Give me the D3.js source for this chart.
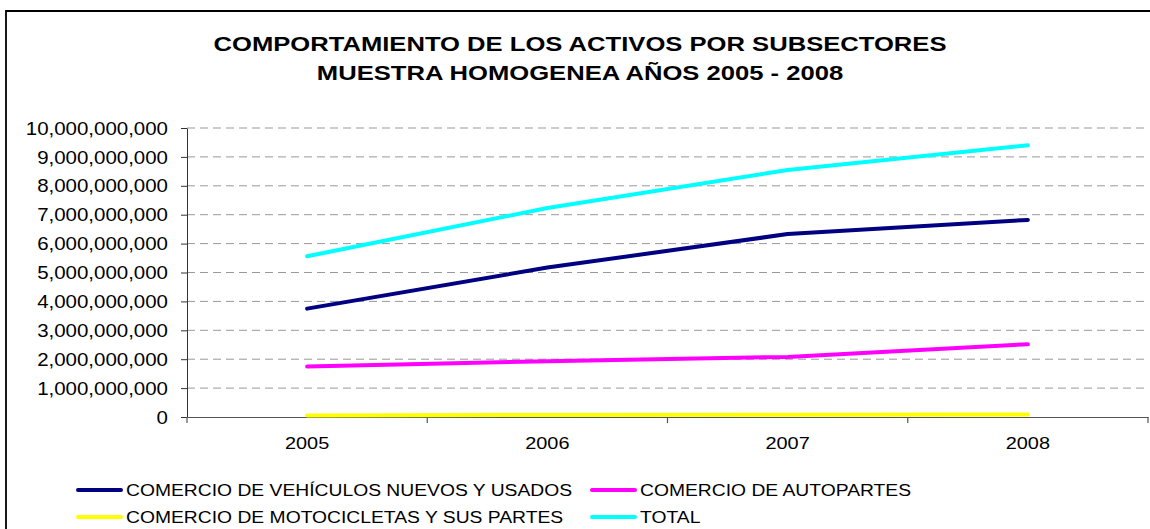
<!DOCTYPE html>
<html><head><meta charset="utf-8">
<script src="https://cdn.jsdelivr.net/npm/d3@7"></script>
<style>
html,body{margin:0;padding:0;background:#fff;}
svg{display:block;font-family:"Liberation Sans",Arial,sans-serif;}
</style></head>
<body>
<svg id="chart" width="1150" height="529"></svg>
<script>
const years = ["2005","2006","2007","2008"];
const vehiculos = [3.75e9, 5.17e9, 6.33e9, 6.82e9];
const autopartes = [1.75e9, 1.93e9, 2.08e9, 2.52e9];
const motocicletas = [0.05e9, 0.07e9, 0.08e9, 0.09e9];
const total = [5.56e9, 7.23e9, 8.55e9, 9.40e9];
const yTicks = [0,1e9,2e9,3e9,4e9,5e9,6e9,7e9,8e9,9e9,10e9];
const titleLines = ["COMPORTAMIENTO DE LOS ACTIVOS POR SUBSECTORES","MUESTRA HOMOGENEA AÑOS 2005 - 2008"];
const seriesNames = ["COMERCIO DE VEHÍCULOS NUEVOS Y USADOS","COMERCIO DE AUTOPARTES","COMERCIO DE MOTOCICLETAS Y SUS PARTES","TOTAL"];
const seriesColors = ["#000080","#FF00FF","#FFFF00","#00FFFF"];

const series = [vehiculos, autopartes, motocicletas, total].map((v,i)=>({name:seriesNames[i],color:seriesColors[i],values:v}));

const SX = 1.17;
const svg = d3.select("#chart");
const m = {left:187, right:1148, top:128, bottom:417};

// frame
svg.append("path").attr("d","M6,540 L6,11 L1160,11").attr("fill","none").attr("stroke","#000").attr("stroke-width",1.8);

const x = d3.scaleBand().domain(years).range([m.left,m.right]).padding(0);
const y = d3.scaleLinear().domain([0,10e9]).range([m.bottom,m.top]);

// gridlines
svg.append("g").selectAll("line").data(yTicks.filter(d=>d>0)).join("line")
  .attr("x1",m.left).attr("x2",m.right).attr("y1",d=>y(d)).attr("y2",d=>y(d))
  .attr("stroke","#999").attr("stroke-width",1).attr("stroke-dasharray","8,5");

// y axis
const yAxis = svg.append("g").attr("transform",`translate(${m.left},0)`)
  .call(d3.axisLeft(y).tickValues(yTicks).tickSize(6).tickSizeOuter(0).tickFormat(d3.format(",")));
yAxis.select(".domain").attr("stroke","#333");
yAxis.selectAll(".tick line").attr("stroke","#333");
yAxis.selectAll(".tick text").each(function(){
  const t = d3.select(this);
  t.attr("x",null).attr("dy","0.35em").attr("font-size",17.5).attr("fill","#000")
   .attr("font-family","Liberation Sans, Arial, sans-serif")
   .attr("transform",`translate(-19,0) scale(${SX},1)`);
});

// x axis
const xAxis = svg.append("g").attr("transform",`translate(0,${m.bottom})`)
  .call(d3.axisBottom(x).tickSize(0).tickSizeOuter(0));
xAxis.select(".domain").attr("stroke","#555").attr("stroke-width",1.2);
xAxis.selectAll(".tick text").attr("y",null).attr("dy",null)
  .attr("font-size",17).attr("fill","#000").attr("font-family","Liberation Sans, Arial, sans-serif")
  .attr("transform",`translate(0,32) scale(${SX},1)`);
// category boundary ticks
const bounds = years.map(d=>x(d)).concat([x(years[years.length-1])+x.bandwidth()]);
svg.append("g").selectAll("line").data(bounds).join("line")
  .attr("x1",d=>d).attr("x2",d=>d).attr("y1",m.bottom).attr("y2",m.bottom+6)
  .attr("stroke","#555").attr("stroke-width",1.2);

// lines
const line = d3.line().x((d,i)=>x(years[i])+x.bandwidth()/2).y(d=>y(d));
const drawOrder = [2,1,0,3];
svg.append("g").selectAll("path").data(drawOrder.map(i=>series[i])).join("path")
  .attr("d",d=>line(d.values)).attr("fill","none").attr("stroke",d=>d.color)
  .attr("stroke-width",4).attr("stroke-linecap","round").attr("stroke-linejoin","round");

// title
svg.append("g").selectAll("text").data(titleLines).join("text")
  .attr("transform",(d,i)=>`translate(580,${[51,80][i]}) scale(1.22,1)`)
  .attr("text-anchor","middle").attr("font-weight","bold").attr("font-size",21)
  .attr("fill","#000").text(d=>d);

// legend
const legPos = [[78,490],[592,490],[78,517],[592,517]];
const leg = svg.append("g").selectAll("g").data(series).join("g")
  .attr("transform",(d,i)=>`translate(${legPos[i][0]},${legPos[i][1]})`);
leg.append("line").attr("x1",0).attr("x2",43).attr("y1",0).attr("y2",0)
  .attr("stroke",d=>d.color).attr("stroke-width",4).attr("stroke-linecap","round");
leg.append("text").attr("transform",`translate(48,0) scale(${SX},1)`).attr("dy","0.35em")
  .attr("font-size",16.5).attr("fill","#000").text(d=>d.name);
</script>
</body></html>
